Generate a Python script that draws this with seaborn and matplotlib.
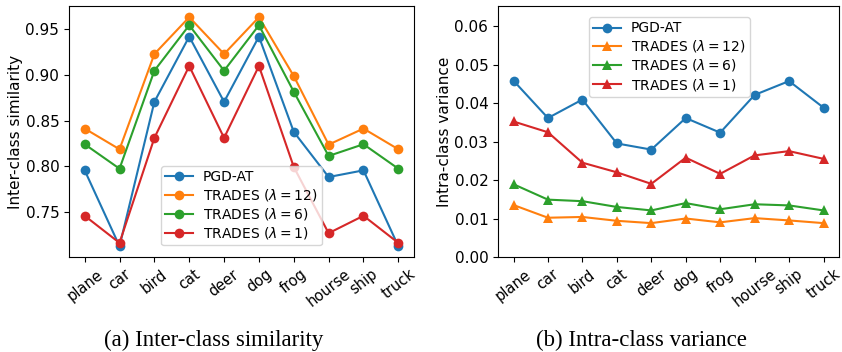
import matplotlib
matplotlib.use("Agg")
import matplotlib.pyplot as plt
import seaborn as sns
import pandas as pd

classes = ["plane", "car", "bird", "cat", "deer", "dog", "frog", "hourse", "ship", "truck"]
series_names = ["PGD-AT", r"TRADES ($\lambda=12$)", r"TRADES ($\lambda=6$)", r"TRADES ($\lambda=1$)"]

inter_pgd = [0.7956, 0.7128, 0.8704, 0.9416, 0.8704, 0.9416, 0.8376, 0.7883, 0.7956, 0.7128]
inter_t12 = [0.8412, 0.8186, 0.9226, 0.9628, 0.9226, 0.9628, 0.8985, 0.8237, 0.8412, 0.8186]
inter_t6 = [0.8241, 0.7974, 0.9044, 0.9540, 0.9044, 0.9540, 0.8814, 0.8113, 0.8241, 0.7974]
inter_t1 = [0.7460, 0.7164, 0.8310, 0.9095, 0.8310, 0.9095, 0.7993, 0.7270, 0.7460, 0.7164]

intra_pgd = [0.0458, 0.0361, 0.0409, 0.0295, 0.0279, 0.0361, 0.0323, 0.0421, 0.0457, 0.0388]
intra_t12 = [0.0135, 0.0102, 0.0104, 0.0094, 0.0088, 0.0100, 0.0090, 0.0101, 0.0095, 0.0088]
intra_t6 = [0.0189, 0.0149, 0.0145, 0.0130, 0.0121, 0.0140, 0.0124, 0.0137, 0.0134, 0.0121]
intra_t1 = [0.0352, 0.0324, 0.0245, 0.0220, 0.0190, 0.0258, 0.0216, 0.0264, 0.0275, 0.0255]

colors = ["#1f77b4", "#ff7f0e", "#2ca02c", "#d62728"]


def long_df(series):
    rows = []
    for name, vals in zip(series_names, series):
        for i, (c, v) in enumerate(zip(classes, vals)):
            rows.append({"idx": i, "cls": c, "series": name, "value": v})
    return pd.DataFrame(rows)


df_inter = long_df([inter_pgd, inter_t12, inter_t6, inter_t1])
df_intra = long_df([intra_pgd, intra_t12, intra_t6, intra_t1])

plt.rcParams["font.family"] = ["DejaVu Sans"]
plt.rcParams["font.size"] = 10

fig = plt.figure(figsize=(8.42, 3.52), dpi=100)
ax1 = fig.add_axes([69 / 842, 1 - 257 / 352, 345 / 842, 251 / 352])
ax2 = fig.add_axes([498 / 842, 1 - 257 / 352, 341 / 842, 251 / 352])

palette = dict(zip(series_names, colors))

sns.lineplot(data=df_inter, x="idx", y="value", hue="series", style="series",
             markers={n: "o" for n in series_names}, dashes=False,
             palette=palette, markersize=7, markeredgewidth=0, ax=ax1)
sns.lineplot(data=df_intra, x="idx", y="value", hue="series", style="series",
             markers=dict(zip(series_names, ["o", "^", "^", "^"])), dashes=False,
             palette=palette, markersize=7, markeredgewidth=0, ax=ax2)

for ax in (ax1, ax2):
    ax.set_xticks(range(len(classes)))
    ax.set_xticklabels(classes, rotation=38, ha="center", fontsize=10.5)
    ax.tick_params(axis="y", labelsize=11)
    ax.set_xlabel("")
    ax.set_xlim(-0.45, 9.45)

ax1.set_ylim(0.701, 0.975)
ax1.set_yticks([0.75, 0.80, 0.85, 0.90, 0.95])
ax1.set_ylabel("Inter-class similarity", fontsize=11, labelpad=2)
ax2.set_ylim(0.0, 0.0652)
ax2.set_yticks([0.0, 0.01, 0.02, 0.03, 0.04, 0.05, 0.06])
ax2.set_yticklabels([f"{v:.2f}" for v in [0.0, 0.01, 0.02, 0.03, 0.04, 0.05, 0.06]])
ax2.set_ylabel("Intra-class variance", fontsize=11, labelpad=2)

leg_kw = dict(fontsize=10, title=None, labelspacing=0.22, handlelength=2.0,
              borderpad=0.3, handletextpad=0.7, borderaxespad=0.3)
ax1.legend(loc="lower center", bbox_to_anchor=(0.5, 0.03), **leg_kw)
ax2.legend(loc="upper center", bbox_to_anchor=(0.503, 0.972), **leg_kw)

fig.text(214 / 842, 1 - 340 / 352, "(a) Inter-class similarity", ha="center", va="center",
         family=["Liberation Serif"], fontsize=16.5)
fig.text(641 / 842, 1 - 340 / 352, "(b) Intra-class variance", ha="center", va="center",
         family=["Liberation Serif"], fontsize=16.5)

fig.savefig("out.png", dpi=100)
